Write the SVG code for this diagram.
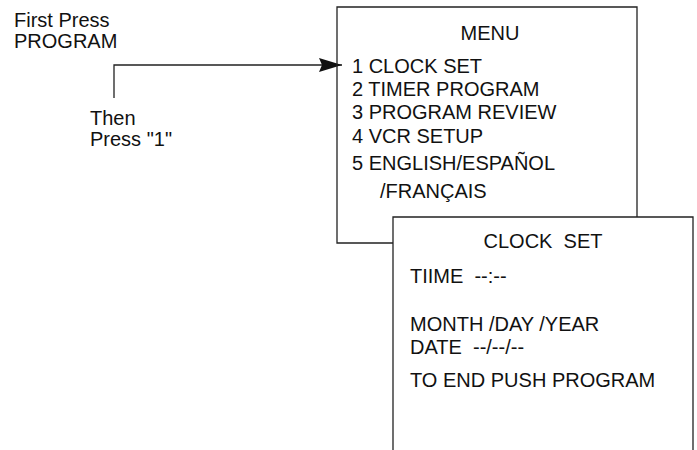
<svg xmlns="http://www.w3.org/2000/svg" width="697" height="450" viewBox="0 0 697 450">
<style>
text{font-family:"Liberation Sans",Arial,Helvetica,sans-serif;font-size:20px;fill:#111}
.box{fill:none;stroke:#222;stroke-width:1.3}
.conn{fill:none;stroke:#222;stroke-width:1.3}
</style>
<defs>
<marker id="arr" markerWidth="23" markerHeight="14" refX="23" refY="7" orient="auto" markerUnits="userSpaceOnUse">
<path d="M0,0 L23,7 L0,14 L3,7 Z" fill="#111"/>
</marker>
</defs>
<rect width="697" height="450" fill="#fff"/>
<g id="instructions">
<text x="14" y="27">First Press</text>
<text x="14" y="48">PROGRAM</text>
<text x="90" y="125">Then</text>
<text x="90" y="146">Press "1"</text>
</g>
<g id="connectors">
<path class="conn" d="M114,98 V65 H342" marker-end="url(#arr)"/>
</g>
<g id="menu">
<path class="box" d="M393,243 H337 V7 H637 V217"/>
<text x="490" y="40" text-anchor="middle">MENU</text>
<text x="352" y="73">1 CLOCK SET</text>
<text x="352" y="96">2 TIMER PROGRAM</text>
<text x="352" y="119">3 PROGRAM REVIEW</text>
<text x="352" y="143">4 VCR SETUP</text>
<text x="352" y="170">5 ENGLISH/ESPAÑOL</text>
<text x="380" y="198">/FRANÇAIS</text>
</g>
<g id="clock-set">
<path class="box" d="M393,450 V217 H693 V450"/>
<text x="543" y="248" text-anchor="middle" xml:space="preserve">CLOCK  SET</text>
<text x="410" y="283" xml:space="preserve">TIIME  --:--</text>
<text x="410" y="331">MONTH /DAY /YEAR</text>
<text x="410" y="354" xml:space="preserve">DATE  --/--/--</text>
<text x="410" y="387">TO END PUSH PROGRAM</text>
</g>
</svg>
